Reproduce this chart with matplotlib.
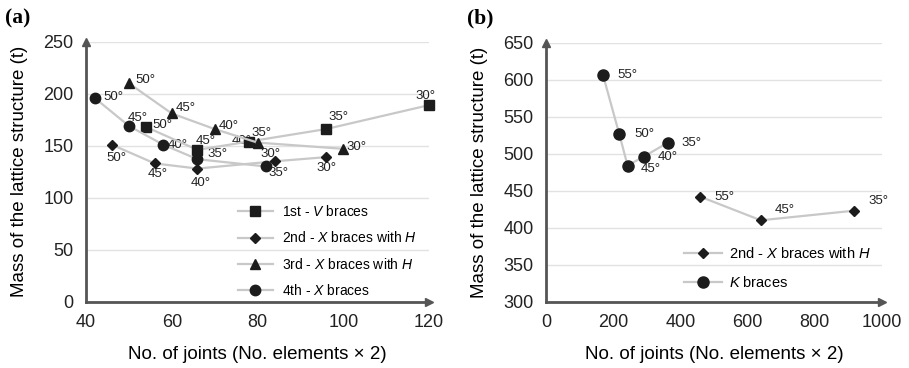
import matplotlib
matplotlib.use("Agg")
import matplotlib.pyplot as plt

plt.rcParams['font.family'] = ['Liberation Sans', 'DejaVu Sans']
plt.rcParams['mathtext.fontset'] = 'custom'
plt.rcParams['mathtext.rm'] = 'Liberation Sans'
plt.rcParams['mathtext.it'] = 'Liberation Sans:italic'

# ---- panel (a) data ----
v_x = [54, 66, 78, 96, 120]
v_y = [168, 146, 154, 166, 189]
v_ang = ['50°', '45°', '40°', '35°', '30°']

xh_x = [46, 56, 66, 84, 96]
xh_y = [151, 133, 128, 135, 139]
xh_ang = ['50°', '45°', '40°', '35°', '30°']

xh3_x = [50, 60, 70, 80, 100]
xh3_y = [210, 181, 166, 153, 147]
xh3_ang = ['50°', '45°', '40°', '35°', '30°']

x4_x = [42, 50, 58, 66, 82]
x4_y = [196, 169, 151, 137, 130]
x4_ang = ['50°', '45°', '40°', '35°', '30°']

# ---- panel (b) data ----
k_x = [170, 218, 243, 291, 363]
k_y = [606, 527, 484, 496, 515]
k_ang = ['55°', '50°', '45°', '40°', '35°']

xb_x = [459, 640, 918]
xb_y = [442, 410, 423]
xb_ang = ['55°', '45°', '35°']

# label offsets in pixels (layout only)
v_off = [(6, 2, 'left'), (-2, 9, 'left'), (3, 1, 'right'), (2, 12, 'left'), (-4, 9, 'center')]
xh_off = [(5, -13, 'center'), (3, -11, 'center'), (3, -14, 'center'), (4, -12, 'center'), (0, -11, 'center')]
xh3_off = [(7, 3, 'left'), (4, 5, 'left'), (4, 3, 'left'), (-6, 10, 'left'), (3, 2, 'left')]
x4_off = [(9, 1, 'left'), (-1, 8, 'left'), (5, 0, 'left'), (10, 5, 'left'), (4, 12, 'center')]
k_off = [(14, 0, 'left'), (15, 0, 'left'), (13, -3, 'left'), (14, 0, 'left'), (14, 0, 'left')]
xb_off = [(14, 0, 'left'), (14, 10, 'left'), (14, 10, 'left')]

LINE = '#c8c8c8'
MK = '#1c1c1c'
SPINE = '#555555'

fig = plt.figure(figsize=(9.09, 3.68), dpi=100)
axa = fig.add_axes([86 / 909, 1 - 301.7 / 368, 343 / 909, 260 / 368])
axb = fig.add_axes([546 / 909, 1 - 301.7 / 368, 335.7 / 909, 259 / 368])


def style(ax, xlim, ylim, yticks, xticks):
    ax.set_xlim(*xlim)
    ax.set_ylim(*ylim)
    ax.set_xticks(xticks)
    ax.set_yticks(yticks)
    for s in ['top', 'right']:
        ax.spines[s].set_visible(False)
    for s in ['left', 'bottom']:
        ax.spines[s].set_color(SPINE)
        ax.spines[s].set_linewidth(2)
    ax.tick_params(length=0, labelsize=13, colors='#222222')
    ax.tick_params(axis='y', pad=9)
    ax.tick_params(axis='x', pad=9)
    ax.yaxis.grid(True, color='#e2e2e2', lw=1)
    ax.set_axisbelow(True)
    ax.plot(1, 0, '>', color=SPINE, ms=6, transform=ax.transAxes, clip_on=False, zorder=5)
    ax.plot(0, 1, '^', color=SPINE, ms=6, transform=ax.transAxes, clip_on=False, zorder=5)
    ax.set_xlabel('No. of joints (No. elements × 2)', fontsize=13.5, labelpad=11)
    ax.set_ylabel('Mass of the lattice structure (t)', fontsize=13.5, labelpad=11)


def series(ax, xs, ys, angs, offs, marker, ms, label):
    ax.plot(xs, ys, color=LINE, lw=1.6, marker=marker, ms=ms, mfc=MK, mec=MK,
            label=label, zorder=3, clip_on=False)
    for x, y, a, (dx, dy, ha) in zip(xs, ys, angs, offs):
        ax.annotate(a, (x, y), xytext=(dx, dy), textcoords='offset pixels',
                    ha=ha, va='center', fontsize=9.5, color='#222222', zorder=2)


style(axa, (40, 120), (0, 250), [0, 50, 100, 150, 200, 250], [40, 60, 80, 100, 120])
series(axa, v_x, v_y, v_ang, v_off, 's', 7, '1st - $\\mathit{V}$ braces')
series(axa, xh_x, xh_y, xh_ang, xh_off, 'D', 5, '2nd - $\\mathit{X}$ braces with $\\mathit{H}$')
series(axa, xh3_x, xh3_y, xh3_ang, xh3_off, '^', 7, '3rd - $\\mathit{X}$ braces with $\\mathit{H}$')
series(axa, x4_x, x4_y, x4_ang, x4_off, 'o', 7.5, '4th - $\\mathit{X}$ braces')
axa.legend(loc='center left', bbox_to_anchor=(0.443, 0.195), frameon=False, fontsize=10,
           handlelength=2.5, handletextpad=0.7, labelspacing=0.8, borderpad=0, borderaxespad=0)

style(axb, (0, 1000), (300, 650), [300, 350, 400, 450, 500, 550, 600, 650], [0, 200, 400, 600, 800, 1000])
series(axb, xb_x, xb_y, xb_ang, xb_off, 'D', 5.5, '2nd - $\\mathit{X}$ braces with $\\mathit{H}$')
series(axb, k_x, k_y, k_ang, k_off, 'o', 8, '$\\mathit{K}$ braces')
axb.legend(loc='center left', bbox_to_anchor=(0.41, 0.13), frameon=False, fontsize=10.5,
           handlelength=2.6, handletextpad=0.5, labelspacing=1.0, borderpad=0, borderaxespad=0)

fig.text(5 / 909, 1 - 18 / 368, '(a)', fontsize=15.5, fontweight='bold', family='Liberation Serif',
         va='center', ha='left')
fig.text(467 / 909, 1 - 18 / 368, '(b)', fontsize=15.5, fontweight='bold', family='Liberation Serif',
         va='center', ha='left')

fig.savefig('out.png', dpi=100)
